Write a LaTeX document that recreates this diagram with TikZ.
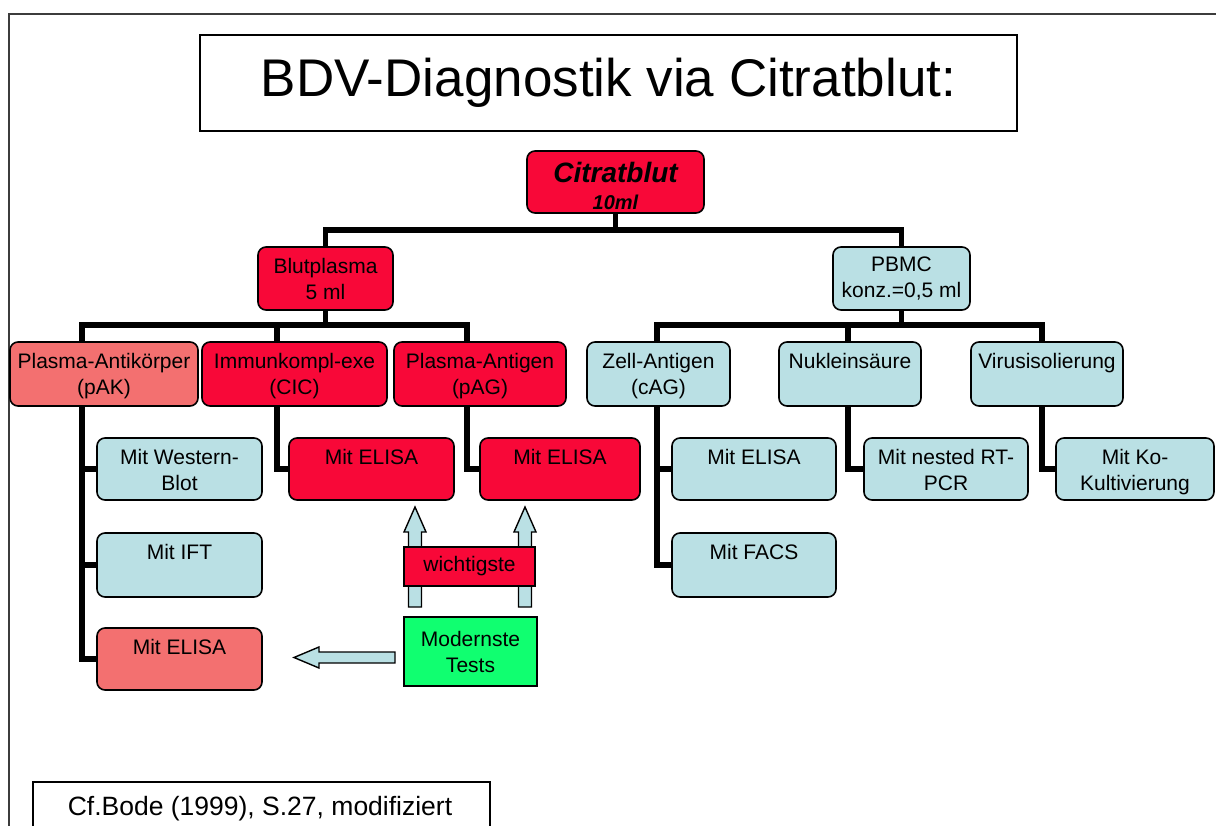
\documentclass[tikz,border=0pt]{standalone}
\usepackage{fontspec}
\setmainfont{Liberation Sans}
\usetikzlibrary{backgrounds}
\definecolor{rd}{RGB}{248,8,56}
\definecolor{pk}{RGB}{243,112,112}
\definecolor{lb}{RGB}{186,224,228}
\definecolor{gn}{RGB}{16,255,112}
\definecolor{framegray}{RGB}{60,60,60}
\begin{document}
\begin{tikzpicture}[x=1pt,y=-1pt,
 box/.style={draw=black, line width=1.6pt, rounded corners=8pt, inner sep=0pt},
 sqbox/.style={draw=black, line width=1.6pt, inner sep=0pt},
 conn/.style={line width=5.8pt, black, line join=miter},
 txt/.style={font=\fontsize{21}{26}\selectfont, align=center, inner sep=0pt},
 arr/.style={draw=black, line width=1.4pt, fill=lb, line join=miter}]
\useasboundingbox (0,0) rectangle (1216,826);
% outer frame
\draw[framegray, line width=1.5pt] (9,830) -- (9,14) -- (1220,14);

% title
\node[sqbox, minimum width=817, minimum height=96, font=\fontsize{53}{60}\selectfont] (title) at (608.5,83) {BDV-Diagnostik via Citratblut:};

% coordinates for buses
\coordinate (jt) at (615,230);
\coordinate (bL1) at (82,325);
\coordinate (bL2) at (277,325);
\coordinate (bL3) at (467,325);
\coordinate (bR1) at (657,325);
\coordinate (bR2) at (848,325);
\coordinate (bR3) at (1042,325);

% level 0/1
\node[box, fill=rd, minimum width=177, minimum height=62] (cit) at (615.5,182) {};
\node[inner sep=0pt, font=\fontsize{28}{32}\selectfont\bfseries\itshape] (citT1) at ([yshift=10pt]cit.center) {Citratblut};
\node[inner sep=0pt, font=\fontsize{20}{24}\selectfont\bfseries\itshape] (citT2) at ([yshift=-20pt]cit.center) {10ml};
\node[box, fill=rd, minimum width=135, minimum height=63, txt] (blut) at (325.5,278.5) {Blutplasma\\5 ml};
\node[box, fill=lb, minimum width=137, minimum height=63, txt] (pbmc) at (901.5,278.5) {PBMC\\konz.=0,5 ml};

% level 2
\node[box, fill=pk, minimum width=188, minimum height=64] (pak) at (104,374) {};
\node[box, fill=rd, minimum width=185, minimum height=64] (cic) at (294.5,374) {};
\node[box, fill=rd, minimum width=172, minimum height=64] (pag) at (480,374) {};
\node[box, fill=lb, minimum width=143, minimum height=64] (zag) at (658.5,374) {};
\node[box, fill=lb, minimum width=142, minimum height=64] (nuk) at (850,374) {};
\node[box, fill=lb, minimum width=152, minimum height=64] (vir) at (1047,374) {};
\node[txt, anchor=north] (pakT) at ([yshift=-12pt]pak.north) {Plasma-Antikörper\\(pAK)};
\node[txt, anchor=north] (cicT) at ([yshift=-12pt]cic.north) {Immunkompl-exe\\(CIC)};
\node[txt, anchor=north] (pagT) at ([yshift=-12pt]pag.north) {Plasma-Antigen\\(pAG)};
\node[txt, anchor=north] (zagT) at ([yshift=-12pt]zag.north) {Zell-Antigen\\(cAG)};
\node[txt, anchor=north] (nukT) at ([yshift=-12pt]nuk.north) {Nukleinsäure};
\node[txt, anchor=north] (virT) at ([yshift=-12pt]vir.north) {Virusisolierung};

% level 3
\node[box, fill=lb, minimum width=165, minimum height=62] (wb) at (179.5,469) {};
\node[box, fill=lb, minimum width=165, minimum height=64] (ift) at (179.5,565) {};
\node[box, fill=pk, minimum width=165, minimum height=62] (elA) at (179.5,659) {};
\node[box, fill=rd, minimum width=165, minimum height=62] (elC) at (371.5,469) {};
\node[box, fill=rd, minimum width=160, minimum height=62] (elG) at (560,469) {};
\node[box, fill=lb, minimum width=164, minimum height=62] (elZ) at (754,469) {};
\node[box, fill=lb, minimum width=164, minimum height=64] (fac) at (754,565) {};
\node[box, fill=lb, minimum width=164, minimum height=62] (pcr) at (946,469) {};
\node[box, fill=lb, minimum width=158, minimum height=62] (ko) at (1135,469) {};
\node[txt, anchor=north] (wbT) at ([yshift=-12pt]wb.north) {Mit Western-\\Blot};
\node[txt, anchor=north] (iftT) at ([yshift=-12pt]ift.north) {Mit IFT};
\node[txt, anchor=north] (elAT) at ([yshift=-12pt]elA.north) {Mit ELISA};
\node[txt, anchor=north] (elCT) at ([yshift=-12pt]elC.north) {Mit ELISA};
\node[txt, anchor=north] (elGT) at ([yshift=-12pt]elG.north) {Mit ELISA};
\node[txt, anchor=north] (elZT) at ([yshift=-12pt]elZ.north) {Mit ELISA};
\node[txt, anchor=north] (facT) at ([yshift=-12pt]fac.north) {Mit FACS};
\node[txt, anchor=north] (pcrT) at ([yshift=-12pt]pcr.north) {Mit nested RT-\\PCR};
\node[txt, anchor=north] (koT) at ([yshift=-12pt]ko.north) {Mit Ko-\\Kultivierung};

% connectors (behind boxes)
\begin{scope}[on background layer]
\draw[conn] (cit.south) -- (cit.south |- jt);
\draw[conn] (blut.north) |- (jt) -| (pbmc.north);
\draw[conn] (blut.south) -- (blut.south |- bL1);
\draw[conn] (pak.north -| bL1) |- (bL3) -- (bL3 |- pag.north);
\draw[conn] (bL2) -- (bL2 |- cic.north);
\draw[conn] (pbmc.south) -- (pbmc.south |- bR1);
\draw[conn] (zag.north -| bR1) |- (bR3) -- (bR3 |- vir.north);
\draw[conn] (bR2) -- (bR2 |- nuk.north);
% level 3
\draw[conn] (pak.south -| bL1) |- (wb.west);
\draw[conn] (pak.south -| bL1) |- (ift.west);
\draw[conn] (pak.south -| bL1) |- (elA.west);
\draw[conn] (cic.south -| bL2) |- (elC.west);
\draw[conn] (pag.south -| bL3) |- (elG.west);
\draw[conn] (zag.south -| bR1) |- (elZ.west);
\draw[conn] (zag.south -| bR1) |- (fac.west);
\draw[conn] (nuk.south -| bR2) |- (pcr.west);
\draw[conn] (vir.south -| bR3) |- (ko.west);
\end{scope}

% block arrows
\coordinate (ua1) at (415,607);
\coordinate (ua2) at (525,607);
\draw[arr] (ua1) ++(-6.5,0) -- ++(0,-75) -- ++(-4.5,0) -- ++(11,-25) -- ++(11,25) -- ++(-4.5,0) -- ++(0,75) -- cycle;
\draw[arr] (ua2) ++(-6.5,0) -- ++(0,-75) -- ++(-4.5,0) -- ++(11,-25) -- ++(11,25) -- ++(-4.5,0) -- ++(0,75) -- cycle;

\node[sqbox, fill=rd, minimum width=131, minimum height=39, font=\fontsize{21}{26}\selectfont] (wich) at (469.5,566.5) {wichtigste};
\node[sqbox, fill=gn, minimum width=133, minimum height=69, txt] (mod) at (470.5,651.5) {Modernste\\Tests};

\coordinate (la) at (395,657.5);
\draw[arr] (la) ++(0,-5.5) -- ++(-76,0) -- ++(0,-5) -- ++(-25,10.5) -- ++(25,10.5) -- ++(0,-5) -- ++(76,0) -- cycle;

% footer
\node[sqbox, minimum width=457, minimum height=70, anchor=north west] (foot) at (32,781) {};
\node[font=\fontsize{26.5}{30}\selectfont, inner sep=0pt] (footT) at (260,809) {Cf.Bode (1999), S.27, modifiziert};
\end{tikzpicture}
\end{document}
